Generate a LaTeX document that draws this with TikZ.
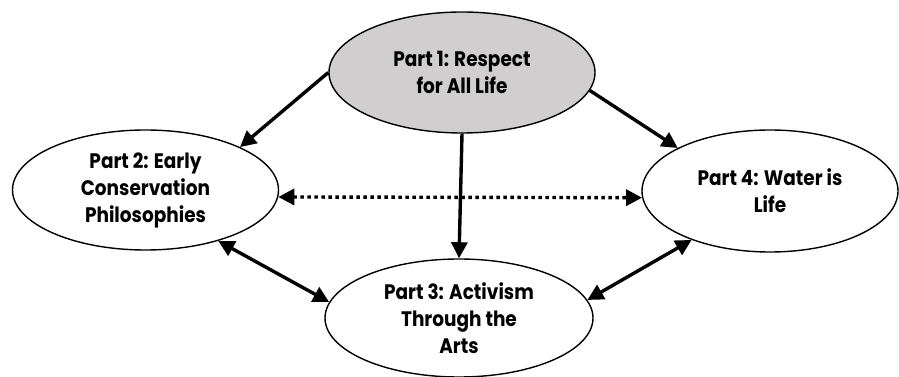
\documentclass[tikz,border=0pt]{standalone}
\usepackage{fontspec}
\newfontfamily\partfont{Poppins}[FakeStretch=0.88]
\usetikzlibrary{shapes,arrows.meta}
\definecolor{partgray}{RGB}{208,206,206}

\begin{document}
\begin{tikzpicture}[x=1pt, y=1pt,
  part/.style={ellipse, draw=black, line width=1.4pt, inner sep=0pt, align=center,
    font=\partfont\bfseries\fontsize{21}{27}\selectfont},
  link/.style={line width=3.4pt, -{Triangle[length=16pt,width=16pt]}},
  both/.style={line width=3.4pt, {Triangle[length=16pt,width=16pt]}-{Triangle[length=16pt,width=16pt]}},
  dots/.style={both, dash pattern=on 3.4pt off 3.6pt}]
\useasboundingbox (0,0) rectangle (899,377);

\node[part, fill=partgray, minimum width=266pt, minimum height=121pt] (p1) at (462,304.5) {Part 1: Respect\\for All Life};
\node[part, minimum width=266pt, minimum height=120pt] (p2) at (145.5,187) {Part 2: Early\\Conservation\\Philosophies};
\node[part, minimum width=268pt, minimum height=118pt] (p3) at (459,59) {Part 3: Activism\\Through the\\Arts};
\node[part, minimum width=256pt, minimum height=122pt] (p4) at (770,186) {Part 4: Water is\\Life};

\draw[link] (p1.west) -- (p2.north east);
\draw[link] (p1.-8) -- (p4.155);
\draw[link] (p1.south) -- (p3.north);
\draw[dots] (p2.-3) -- (p4.183);
\draw[both] (p2.-35) -- (p3.173);
\draw[both] (p3.8) -- (p4.212);
\end{tikzpicture}
\end{document}
